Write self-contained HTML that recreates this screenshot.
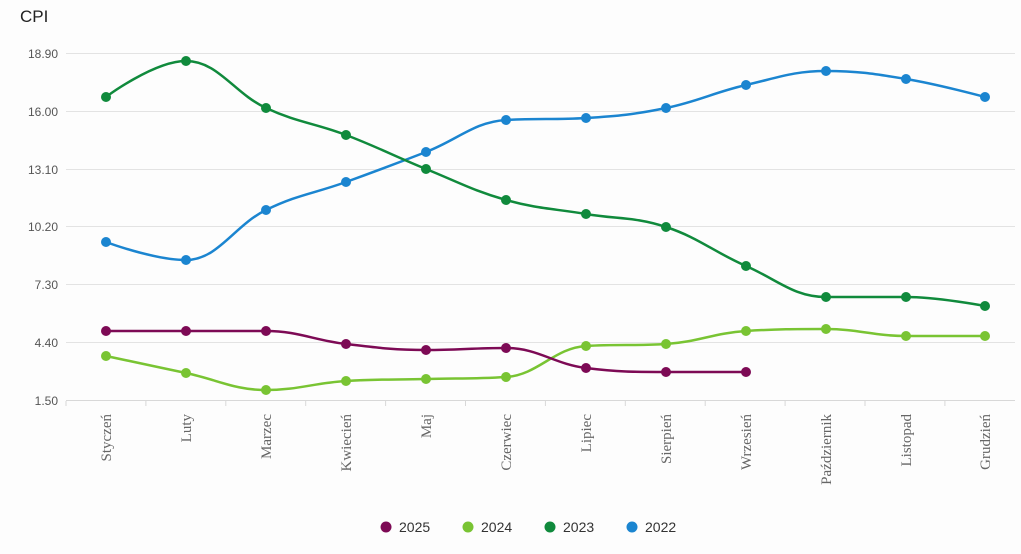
<!DOCTYPE html>
<html><head><meta charset="utf-8"><style>
body{margin:0;background:#fdfdfd;width:1021px;height:554px;overflow:hidden}
svg{display:block}
</style></head><body>
<svg id="s" width="1021" height="554" xmlns="http://www.w3.org/2000/svg" font-family="Liberation Sans, sans-serif">
<rect width="1021" height="554" fill="#fdfdfd"/>
<text x="20" y="22" font-size="17" fill="#222">CPI</text>
<g stroke="#e3e3e3" stroke-width="1">
<line x1="66" x2="1015" y1="53.5" y2="53.5"/>
<line x1="66" x2="1015" y1="111.5" y2="111.5"/>
<line x1="66" x2="1015" y1="169.5" y2="169.5"/>
<line x1="66" x2="1015" y1="226.5" y2="226.5"/>
<line x1="66" x2="1015" y1="284.5" y2="284.5"/>
<line x1="66" x2="1015" y1="342.5" y2="342.5"/>
<line x1="66" x2="1015" y1="400.5" y2="400.5" stroke="#d8d8d8"/>
</g>
<g font-size="12" fill="#555" text-anchor="end">
<text x="58" y="58">18.90</text><text x="58" y="116">16.00</text><text x="58" y="174">13.10</text>
<text x="58" y="231">10.20</text><text x="58" y="289">7.30</text><text x="58" y="347">4.40</text><text x="58" y="405">1.50</text>
</g>
<g id="ticks" stroke="#d8d8d8"></g>
<g id="xl" font-family="Liberation Serif, serif" font-size="15" fill="#666"></g>
<g id="series"></g>
<g font-size="14" fill="#333">
<circle cx="386" cy="527" r="5.5" fill="#7d0a55"/><text x="399" y="532">2025</text>
<circle cx="468" cy="527" r="5.5" fill="#79c433"/><text x="481" y="532">2024</text>
<circle cx="550" cy="527" r="5.5" fill="#108a3c"/><text x="563" y="532">2023</text>
<circle cx="632" cy="527" r="5.5" fill="#1b85d0"/><text x="645" y="532">2022</text>
</g>
</svg>
<script>
const NS="http://www.w3.org/2000/svg";
const xs=[106,186,266,346,426,506,586,666,746,826,906,985];
const labels=["Styczeń","Luty","Marzec","Kwiecień","Maj","Czerwiec","Lipiec","Sierpień","Wrzesień","Październik","Listopad","Grudzień"];
const xl=document.getElementById('xl'),tk=document.getElementById('ticks');
labels.forEach((l,i)=>{const t=document.createElementNS(NS,'text');t.setAttribute('transform',`translate(${xs[i]+5},414) rotate(-90)`);t.setAttribute('text-anchor','end');t.textContent=l;xl.appendChild(t);});
for(let i=0;i<=12;i++){const x=66+i*79.9;const l=document.createElementNS(NS,'line');l.setAttribute('x1',x);l.setAttribute('x2',x);l.setAttribute('y1',401);l.setAttribute('y2',406);tk.appendChild(l);}
const S=[
["#1b85d0",[242,260,210,182,152,120,118,108,85,71,79,97]],
["#108a3c",[97,61,108,135,169,200,214,227,266,297,297,306]],
["#79c433",[356,373,390,381,379,377,346,344,331,329,336,336]],
["#7d0a55",[331,331,331,344,350,348,368,372,372]]];
const g=document.getElementById('series');
S.forEach(([c,ys])=>{
 const p=ys.map((y,i)=>[xs[i],y]);
 let d=`M${p[0][0]},${p[0][1]}`;
 const sm=1.5,den=sm+1;
 function cp(i){
  const prev=p[i-1],cur=p[i],next=p[i+1];
  if(!prev||!next) return [cur,cur];
  let lx=(sm*cur[0]+prev[0])/den,ly=(sm*cur[1]+prev[1])/den,rx=(sm*cur[0]+next[0])/den,ry=(sm*cur[1]+next[1])/den;
  let corr=0; if(rx!==lx){corr=((ry-ly)*(rx-cur[0]))/(rx-lx)+cur[1]-ry;}
  ly+=corr;ry+=corr;
  if(ly>Math.max(prev[1],cur[1])){ly=Math.max(prev[1],cur[1]);ry=2*cur[1]-ly;}
  else if(ly<Math.min(prev[1],cur[1])){ly=Math.min(prev[1],cur[1]);ry=2*cur[1]-ly;}
  if(ry>Math.max(next[1],cur[1])){ry=Math.max(next[1],cur[1]);ly=2*cur[1]-ry;}
  else if(ry<Math.min(next[1],cur[1])){ry=Math.min(next[1],cur[1]);ly=2*cur[1]-ry;}
  return [[lx,ly],[rx,ry]];
 }
 for(let i=1;i<p.length;i++){const a=cp(i-1)[1],b=cp(i)[0];d+=` C${a[0]},${a[1]} ${b[0]},${b[1]} ${p[i][0]},${p[i][1]}`;}
 const path=document.createElementNS(NS,'path');path.setAttribute('d',d);path.setAttribute('fill','none');path.setAttribute('stroke',c);path.setAttribute('stroke-width','2.5');g.appendChild(path);
 p.forEach(q=>{const ci=document.createElementNS(NS,'circle');ci.setAttribute('cx',q[0]);ci.setAttribute('cy',q[1]);ci.setAttribute('r',5);ci.setAttribute('fill',c);g.appendChild(ci);});
});
</script>
</body></html>
